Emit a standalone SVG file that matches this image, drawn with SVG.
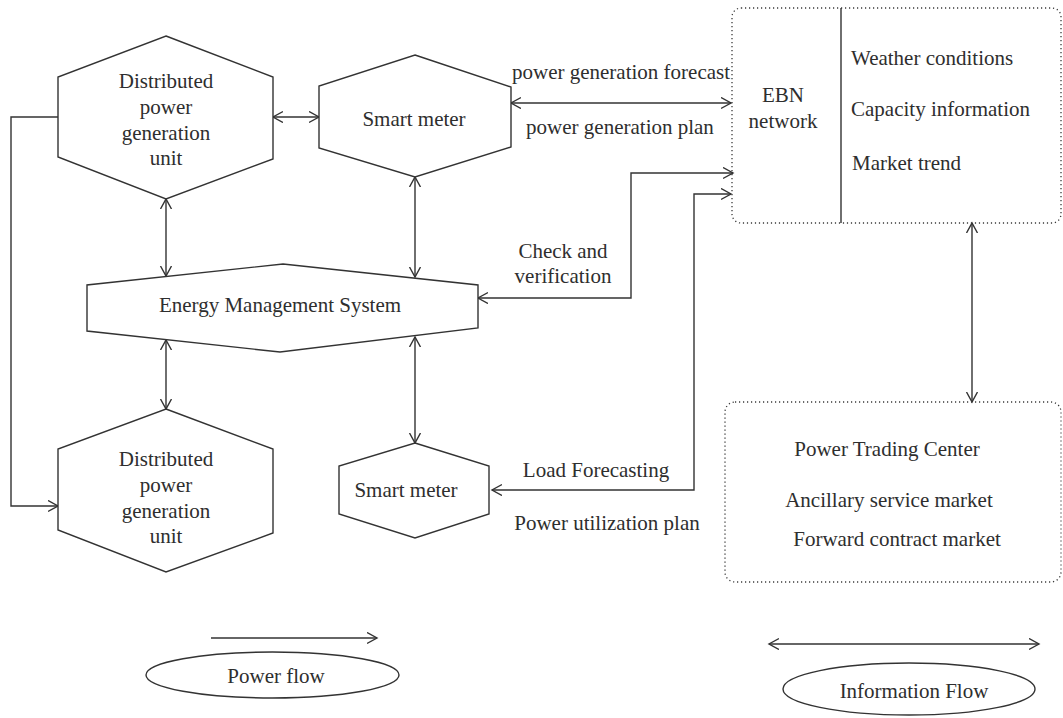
<svg xmlns="http://www.w3.org/2000/svg" width="1063" height="718" viewBox="0 0 1063 718">
  <style>
    .shape { fill: #ffffff; stroke: #333333; stroke-width: 1.4; stroke-linejoin: miter; }
    .dotted { fill: none; stroke: #3a3a3a; stroke-width: 1.3; stroke-dasharray: 1.2 2.8; }
    .wire { fill: none; stroke: #333333; stroke-width: 1.4; }
    .bi { marker-start: url(#head); marker-end: url(#head); }
    .uni { marker-end: url(#head); }
    text { font-family: "Liberation Serif", "Times New Roman", serif; font-size: 21px; fill: #2e2e2e; }
    .c { text-anchor: middle; }
  </style>
  <defs>
    <marker id="head" markerUnits="userSpaceOnUse" markerWidth="14" markerHeight="14" refX="10" refY="6" orient="auto-start-reverse">
      <path d="M0,0.5 L10,6 L0,11.5" fill="none" stroke="#333333" stroke-width="1.4"/>
    </marker>
  </defs>

  <rect width="1063" height="718" fill="#ffffff"/>

  <!-- connectors -->
  <g id="connectors">
    <path class="wire bi" d="M273,117 H319"/>
    <path class="wire bi" d="M511,103 H731"/>
    <path class="wire bi" d="M166,199 V276"/>
    <path class="wire bi" d="M415,177 V277"/>
    <path class="wire bi" d="M166,340 V409"/>
    <path class="wire bi" d="M415,337 V443"/>
    <path class="wire uni" d="M58,117 H11 V506 H58"/>
    <path class="wire bi" d="M478,298 H631 V173 H733"/>
    <path class="wire bi" d="M492,490 H694 V194 H731"/>
    <path class="wire bi" d="M972,223 V402"/>
  </g>

  <!-- upper distributed generation unit -->
  <g id="dpgu-top">
    <polygon class="shape" points="166,36 273,77 273,159 166,199 58,157 58,77"/>
    <text class="c" x="166" y="88">Distributed</text>
    <text class="c" x="166" y="114">power</text>
    <text class="c" x="166" y="140">generation</text>
    <text class="c" x="166" y="165">unit</text>
  </g>

  <!-- upper smart meter -->
  <g id="smart-meter-top">
    <polygon class="shape" points="415,55 511,87 511,147 415,177 319,148 319,86"/>
    <text class="c" x="414" y="126">Smart meter</text>
  </g>

  <!-- energy management system -->
  <g id="ems">
    <polygon class="shape" points="283,264 478,285 478,328 280,352 87,331 87,285"/>
    <text class="c" x="280" y="312">Energy Management System</text>
  </g>

  <!-- lower distributed generation unit -->
  <g id="dpgu-bottom">
    <polygon class="shape" points="166,409 273,449 273,533 166,572 58,530 58,449"/>
    <text class="c" x="166" y="466">Distributed</text>
    <text class="c" x="166" y="492">power</text>
    <text class="c" x="166" y="518">generation</text>
    <text class="c" x="166" y="543">unit</text>
  </g>

  <!-- lower smart meter -->
  <g id="smart-meter-bottom">
    <polygon class="shape" points="415,443 489,466 489,514 415,538 339,514 339,466"/>
    <text class="c" x="406" y="497">Smart meter</text>
  </g>

  <!-- EBN network panel -->
  <g id="ebn">
    <rect class="dotted" x="732" y="8" width="329" height="215" rx="9"/>
    <line x1="841" y1="8" x2="841" y2="223" stroke="#333333" stroke-width="1.4"/>
    <text class="c" x="783" y="102">EBN</text>
    <text class="c" x="783" y="128">network</text>
    <text x="851" y="65">Weather conditions</text>
    <text x="851" y="116">Capacity information</text>
    <text x="852" y="170">Market trend</text>
  </g>

  <!-- power trading center panel -->
  <g id="ptc">
    <rect class="dotted" x="725" y="402" width="336" height="180" rx="10"/>
    <text class="c" x="887" y="456">Power Trading Center</text>
    <text class="c" x="889" y="507">Ancillary service market</text>
    <text class="c" x="897" y="546">Forward contract market</text>
  </g>

  <!-- connector labels -->
  <g id="labels">
    <text class="c" x="621" y="79">power generation forecast</text>
    <text class="c" x="620" y="134">power generation plan</text>
    <text class="c" x="563" y="258">Check and</text>
    <text class="c" x="563" y="283">verification</text>
    <text class="c" x="596" y="477">Load Forecasting</text>
    <text class="c" x="607" y="530">Power utilization plan</text>
  </g>

  <!-- legend -->
  <g id="legend-power">
    <path class="wire uni" d="M211,638 H377"/>
    <ellipse class="shape" cx="272.5" cy="675" rx="126.5" ry="23"/>
    <text class="c" x="276" y="683">Power flow</text>
  </g>
  <g id="legend-info">
    <path class="wire bi" d="M769,644 H1039"/>
    <ellipse class="shape" cx="909" cy="689" rx="126" ry="26"/>
    <text class="c" x="914" y="698">Information Flow</text>
  </g>
</svg>
